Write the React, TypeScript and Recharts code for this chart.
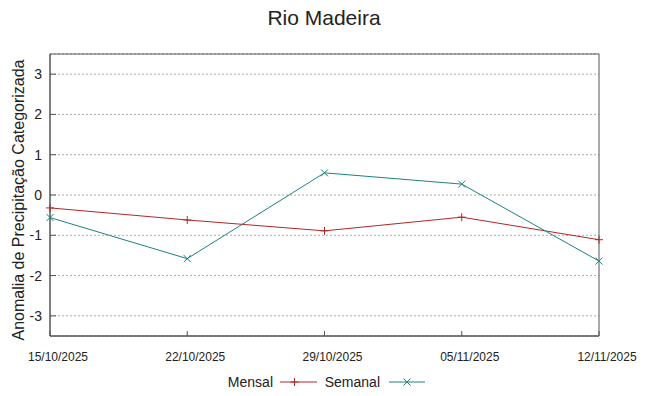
import React from 'react';
import { LineChart, Line, XAxis, YAxis, CartesianGrid, Legend, ReferenceArea } from 'recharts';

const dates = ['15/10/2025', '22/10/2025', '29/10/2025', '05/11/2025', '12/11/2025'];
const mensal = [-0.32, -0.62, -0.89, -0.55, -1.11];
const semanal = [-0.56, -1.58, 0.55, 0.27, -1.64];
const yTicks = [-3, -2, -1, 0, 1, 2, 3];

const data = dates.map((d, i) => ({ date: d, mensal: mensal[i], semanal: semanal[i] }));

const RED = '#b02828';
const TEAL = '#1f8080';
const AXIS = '#555';
const FONT = '"Liberation Sans", Arial, sans-serif';

const PlusDot = (props: any) => {
  const { cx, cy } = props;
  if (cx == null || cy == null) return null;
  return (
    <g>
      <line x1={cx - 4} y1={cy} x2={cx + 4} y2={cy} stroke={RED} strokeWidth={1} />
      <line x1={cx} y1={cy - 4} x2={cx} y2={cy + 4} stroke={RED} strokeWidth={1} />
    </g>
  );
};

const CrossDot = (props: any) => {
  const { cx, cy } = props;
  if (cx == null || cy == null) return null;
  return (
    <g>
      <line x1={cx - 3.5} y1={cy - 3.5} x2={cx + 3.5} y2={cy + 3.5} stroke={TEAL} strokeWidth={1} />
      <line x1={cx - 3.5} y1={cy + 3.5} x2={cx + 3.5} y2={cy - 3.5} stroke={TEAL} strokeWidth={1} />
    </g>
  );
};

const EmptyTick = () => <g />;

const LegendContent = () => (
  <svg width={648} height={24} style={{ display: 'block' }}>
    <text x={273} y={17} textAnchor="end" fontSize={14} fontFamily={FONT} fill="#222">Mensal</text>
    <line x1={280} y1={12} x2={317} y2={12} stroke={RED} strokeWidth={1} />
    <line x1={294.5} y1={8} x2={294.5} y2={16} stroke={RED} strokeWidth={1} />
    <line x1={290.5} y1={12} x2={298.5} y2={12} stroke={RED} strokeWidth={1} />
    <text x={380} y={17} textAnchor="end" fontSize={14} fontFamily={FONT} fill="#222">Semanal</text>
    <line x1={389} y1={12} x2={425} y2={12} stroke={TEAL} strokeWidth={1} />
    <line x1={403.5} y1={8.5} x2={410.5} y2={15.5} stroke={TEAL} strokeWidth={1} />
    <line x1={403.5} y1={15.5} x2={410.5} y2={8.5} stroke={TEAL} strokeWidth={1} />
  </svg>
);

const YLabel = (props: any) => {
  const vb = props.viewBox || {};
  const cy = (vb.y ?? 54) + (vb.height ?? 282) / 2 + 5;
  const cx = 18;
  return (
    <text
      x={cx}
      y={cy}
      transform={`rotate(-90, ${cx}, ${cy})`}
      textAnchor="middle"
      dominantBaseline="central"
      fontSize={16}
      fontFamily={FONT}
      fill="#222"
    >
      Anomalia de Precipitação Categorizada
    </text>
  );
};

export default function App() {
  return (
    <div style={{ position: 'absolute', left: 0, top: 0, width: 648, height: 396, background: '#fff', fontFamily: FONT }}>
      <div
        style={{
          position: 'absolute',
          left: 0,
          top: 6,
          width: 648,
          textAlign: 'center',
          fontSize: 21,
          color: '#222',
          fontFamily: FONT,
        }}
      >
        Rio Madeira
      </div>
      <LineChart
        width={648}
        height={396}
        data={data}
        margin={{ top: 54, right: 49, bottom: 30, left: 0 }}
      >
        <CartesianGrid
          xAxisId="b"
          yAxisId="l"
          vertical={false}
          stroke="#aaa"
          strokeDasharray="2 2"
        />
        <XAxis
          xAxisId="b"
          dataKey="date"
          height={30}
          interval={0}
          padding={{ left: 0, right: 0 }}
          axisLine={{ stroke: AXIS }}
          tickLine={{ stroke: AXIS }}
          tickSize={-5}
          tickMargin={21}
          tick={{ fontSize: 12, fill: '#222', fontFamily: FONT, dx: 8 }}
        />
        <XAxis
          xAxisId="t"
          dataKey="date"
          orientation="top"
          height={0}
          interval={0}
          padding={{ left: 0, right: 0 }}
          axisLine={{ stroke: AXIS }}
          tickLine={{ stroke: AXIS }}
          tickSize={-5}
          tick={EmptyTick}
        />
        <YAxis
          yAxisId="l"
          width={50}
          domain={[-3.5, 3.5]}
          ticks={yTicks}
          allowDataOverflow
          axisLine={{ stroke: AXIS }}
          tickLine={{ stroke: AXIS }}
          tickSize={-6}
          tickMargin={14}
          tick={{ fontSize: 14, fill: '#222', fontFamily: FONT }}
          label={{ content: YLabel }}
        />
        <YAxis
          yAxisId="r"
          orientation="right"
          width={0}
          domain={[-3.5, 3.5]}
          ticks={yTicks}
          allowDataOverflow
          axisLine={{ stroke: AXIS }}
          tickLine={{ stroke: AXIS }}
          tickSize={-6}
          tick={EmptyTick}
        />
        <ReferenceArea
          xAxisId="b"
          yAxisId="l"
          x1={dates[0]}
          x2={dates[dates.length - 1]}
          y1={-3.5}
          y2={3.5}
          fill="none"
          fillOpacity={0}
          stroke={AXIS}
          strokeWidth={1}
          ifOverflow="visible"
        />
        <Legend
          layout="horizontal"
          verticalAlign="middle"
          align="center"
          content={LegendContent}
          wrapperStyle={{ position: 'absolute', left: 0, top: 370, width: 648, height: 24 }}
        />
        <Line
          xAxisId="b"
          yAxisId="l"
          type="linear"
          dataKey="mensal"
          name="Mensal"
          stroke={RED}
          strokeWidth={1}
          dot={PlusDot}
          activeDot={false}
          isAnimationActive={false}
        />
        <Line
          xAxisId="b"
          yAxisId="l"
          type="linear"
          dataKey="semanal"
          name="Semanal"
          stroke={TEAL}
          strokeWidth={1}
          dot={CrossDot}
          activeDot={false}
          isAnimationActive={false}
        />
      </LineChart>
    </div>
  );
}
